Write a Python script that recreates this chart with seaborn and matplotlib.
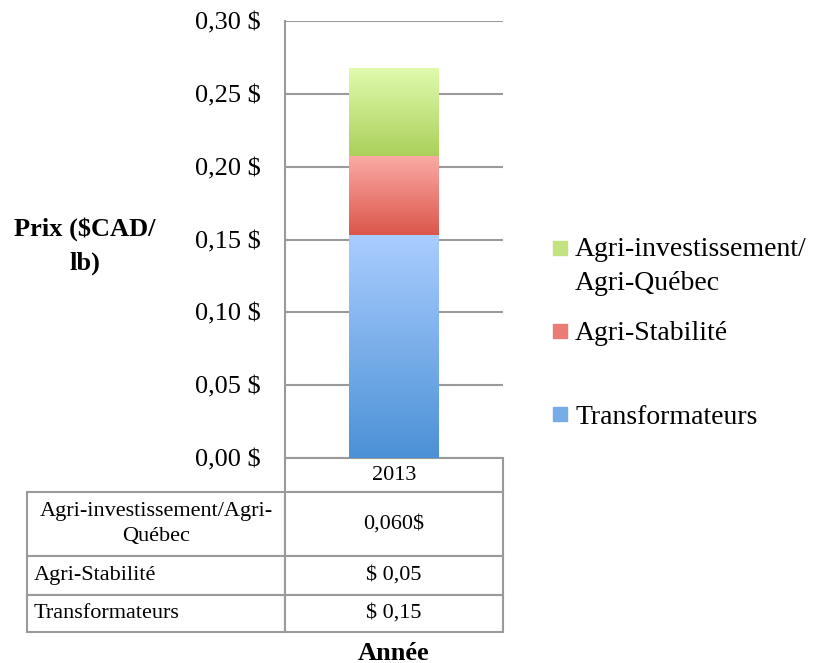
import numpy as np
import pandas as pd
import matplotlib
matplotlib.use("Agg")
import matplotlib.pyplot as plt
import seaborn as sns
from matplotlib.colors import LinearSegmentedColormap
from matplotlib.patches import Rectangle
from matplotlib.ticker import FuncFormatter

# données
annees = ["2013"]
transformateurs = [0.153]
agri_stabilite = [0.054]
agri_invest = [0.061]
legende = ["Agri-investissement/\nAgri-Québec", "Agri-Stabilité", "Transformateurs"]
table_lignes = ["Agri-investissement/Agri-\nQuébec", "Agri-Stabilité", "Transformateurs"]
table_valeurs = ["0,060$", "$ 0,05", "$ 0,15"]
yticks = [0.0, 0.05, 0.10, 0.15, 0.20, 0.25, 0.30]

sns.set_style("white")
plt.rcParams["font.family"] = ["Liberation Serif"]
plt.rcParams["text.color"] = "black"
plt.rcParams["axes.labelcolor"] = "black"
plt.rcParams["ytick.labelcolor"] = "black"

df = pd.DataFrame({"annee": annees, "trans": transformateurs,
                   "stab": agri_stabilite, "inv": agri_invest})
df["cum_stab"] = df["trans"] + df["stab"]
df["cum_inv"] = df["cum_stab"] + df["inv"]

W, H = 815, 663
fig = plt.figure(figsize=(W / 100, H / 100), dpi=100)
ax = fig.add_axes([285 / W, 1 - 458 / H, 218 / W, 437 / H])

# (haut, bas) des dégradés
degrades = {"inv": ("#e0fbae", "#abd05a"),
            "stab": ("#fbaaa5", "#db564b"),
            "trans": ("#aacdff", "#4b91d6")}
couches = [("cum_inv", "cum_stab", "inv"), ("cum_stab", "trans", "stab"), ("trans", None, "trans")]
cmaps = {k: LinearSegmentedColormap.from_list(k, [v[1], v[0]]) for k, v in degrades.items()}

z = 2
for haut, bas, cle in couches:
    n0 = len(ax.patches)
    sns.barplot(data=df, x="annee", y=haut, ax=ax, color=degrades[cle][1],
                width=0.41, saturation=1, errorbar=None)
    for i, p in enumerate(ax.patches[n0:]):
        x0, w = p.get_x(), p.get_width()
        y1 = df[haut].iloc[i]
        y0 = df[bas].iloc[i] if bas else 0
        grad = np.linspace(0, 1, 256).reshape(-1, 1)
        im = ax.imshow(grad, cmap=cmaps[cle], origin="lower", aspect="auto",
                       extent=(x0, x0 + w, y0, y1), zorder=z + 0.5)
        im.set_clip_path(p)
        p.set_zorder(z)
        p.set_edgecolor("none")
    z += 1

ax.set_xlim(-0.5, 0.5)
ax.set_ylim(0, 0.30)
ax.set_yticks(yticks)
ax.yaxis.set_major_formatter(FuncFormatter(lambda v, _: f"{v:.2f} $".replace(".", ",")))
ax.tick_params(axis="y", length=6, width=1.5, color="#9a9a9a", labelsize=19, pad=11.5)
ax.set_xticks([])
ax.yaxis.grid(True, color="#9a9a9a", lw=1.5)
ax.set_axisbelow(True)
for s in ["top", "right", "bottom"]:
    ax.spines[s].set_visible(False)
ax.spines["left"].set_color("#9a9a9a")
ax.spines["left"].set_linewidth(1.5)

ax.set_ylabel("Prix ($CAD/\nlb)", rotation=0, fontsize=19, fontweight="bold",
              ha="center", va="center")
ax.yaxis.label.set_linespacing(1.6)
ax.yaxis.set_label_coords((85 - 285) / 218, (458 - 246) / 437)
ax.set_xlabel("Année", fontsize=19, fontweight="bold", va="center")
ax.xaxis.set_label_coords(0.5, (458 - 653) / 437)

# tableau de données
cellules = [[lab, val] for lab, val in zip(table_lignes, table_valeurs)]
tab = ax.table(cellText=cellules, colLabels=[""] + annees, colWidths=[258, 218],
               cellLoc="center",
               bbox=[(27 - 285) / 218, (458 - 632) / 437, 476 / 218, 174 / 437])
tab.auto_set_font_size(False)
tab.set_fontsize(16)
hauteurs = {0: 34, 1: 64, 2: 39, 3: 37}
for (r, c), cell in tab.get_celld().items():
    cell.set_height(hauteurs[r])
    cell.set_edgecolor("#9a9a9a")
    cell.set_linewidth(1.5)
    cell.PAD = 0.025
    cell.get_text().set_color("black")
    cell.get_text().set_linespacing(1.45)
    if r == 0 and c == 0:
        cell.visible_edges = ""
    if c == 0 and r > 1:
        cell._loc = "left"
        cell.get_text().set_horizontalalignment("left")

# légende
pos_leg = [(241, [249, 283]), (324, [333]), (407, [417])]
for lab, cle, (yh, ys) in zip(legende, ["inv", "stab", "trans"], pos_leg):
    fig.add_artist(Rectangle((553 / W, 1 - (yh + 14) / H), 14 / W, 14 / H,
                             transform=fig.transFigure, color=cmaps[cle](0.45)))
    for ligne, y in zip(lab.split("\n"), ys):
        fig.text(575 / W, 1 - y / H, ligne, fontsize=20, va="center", ha="left")

fig.savefig("out.png", dpi=100)
